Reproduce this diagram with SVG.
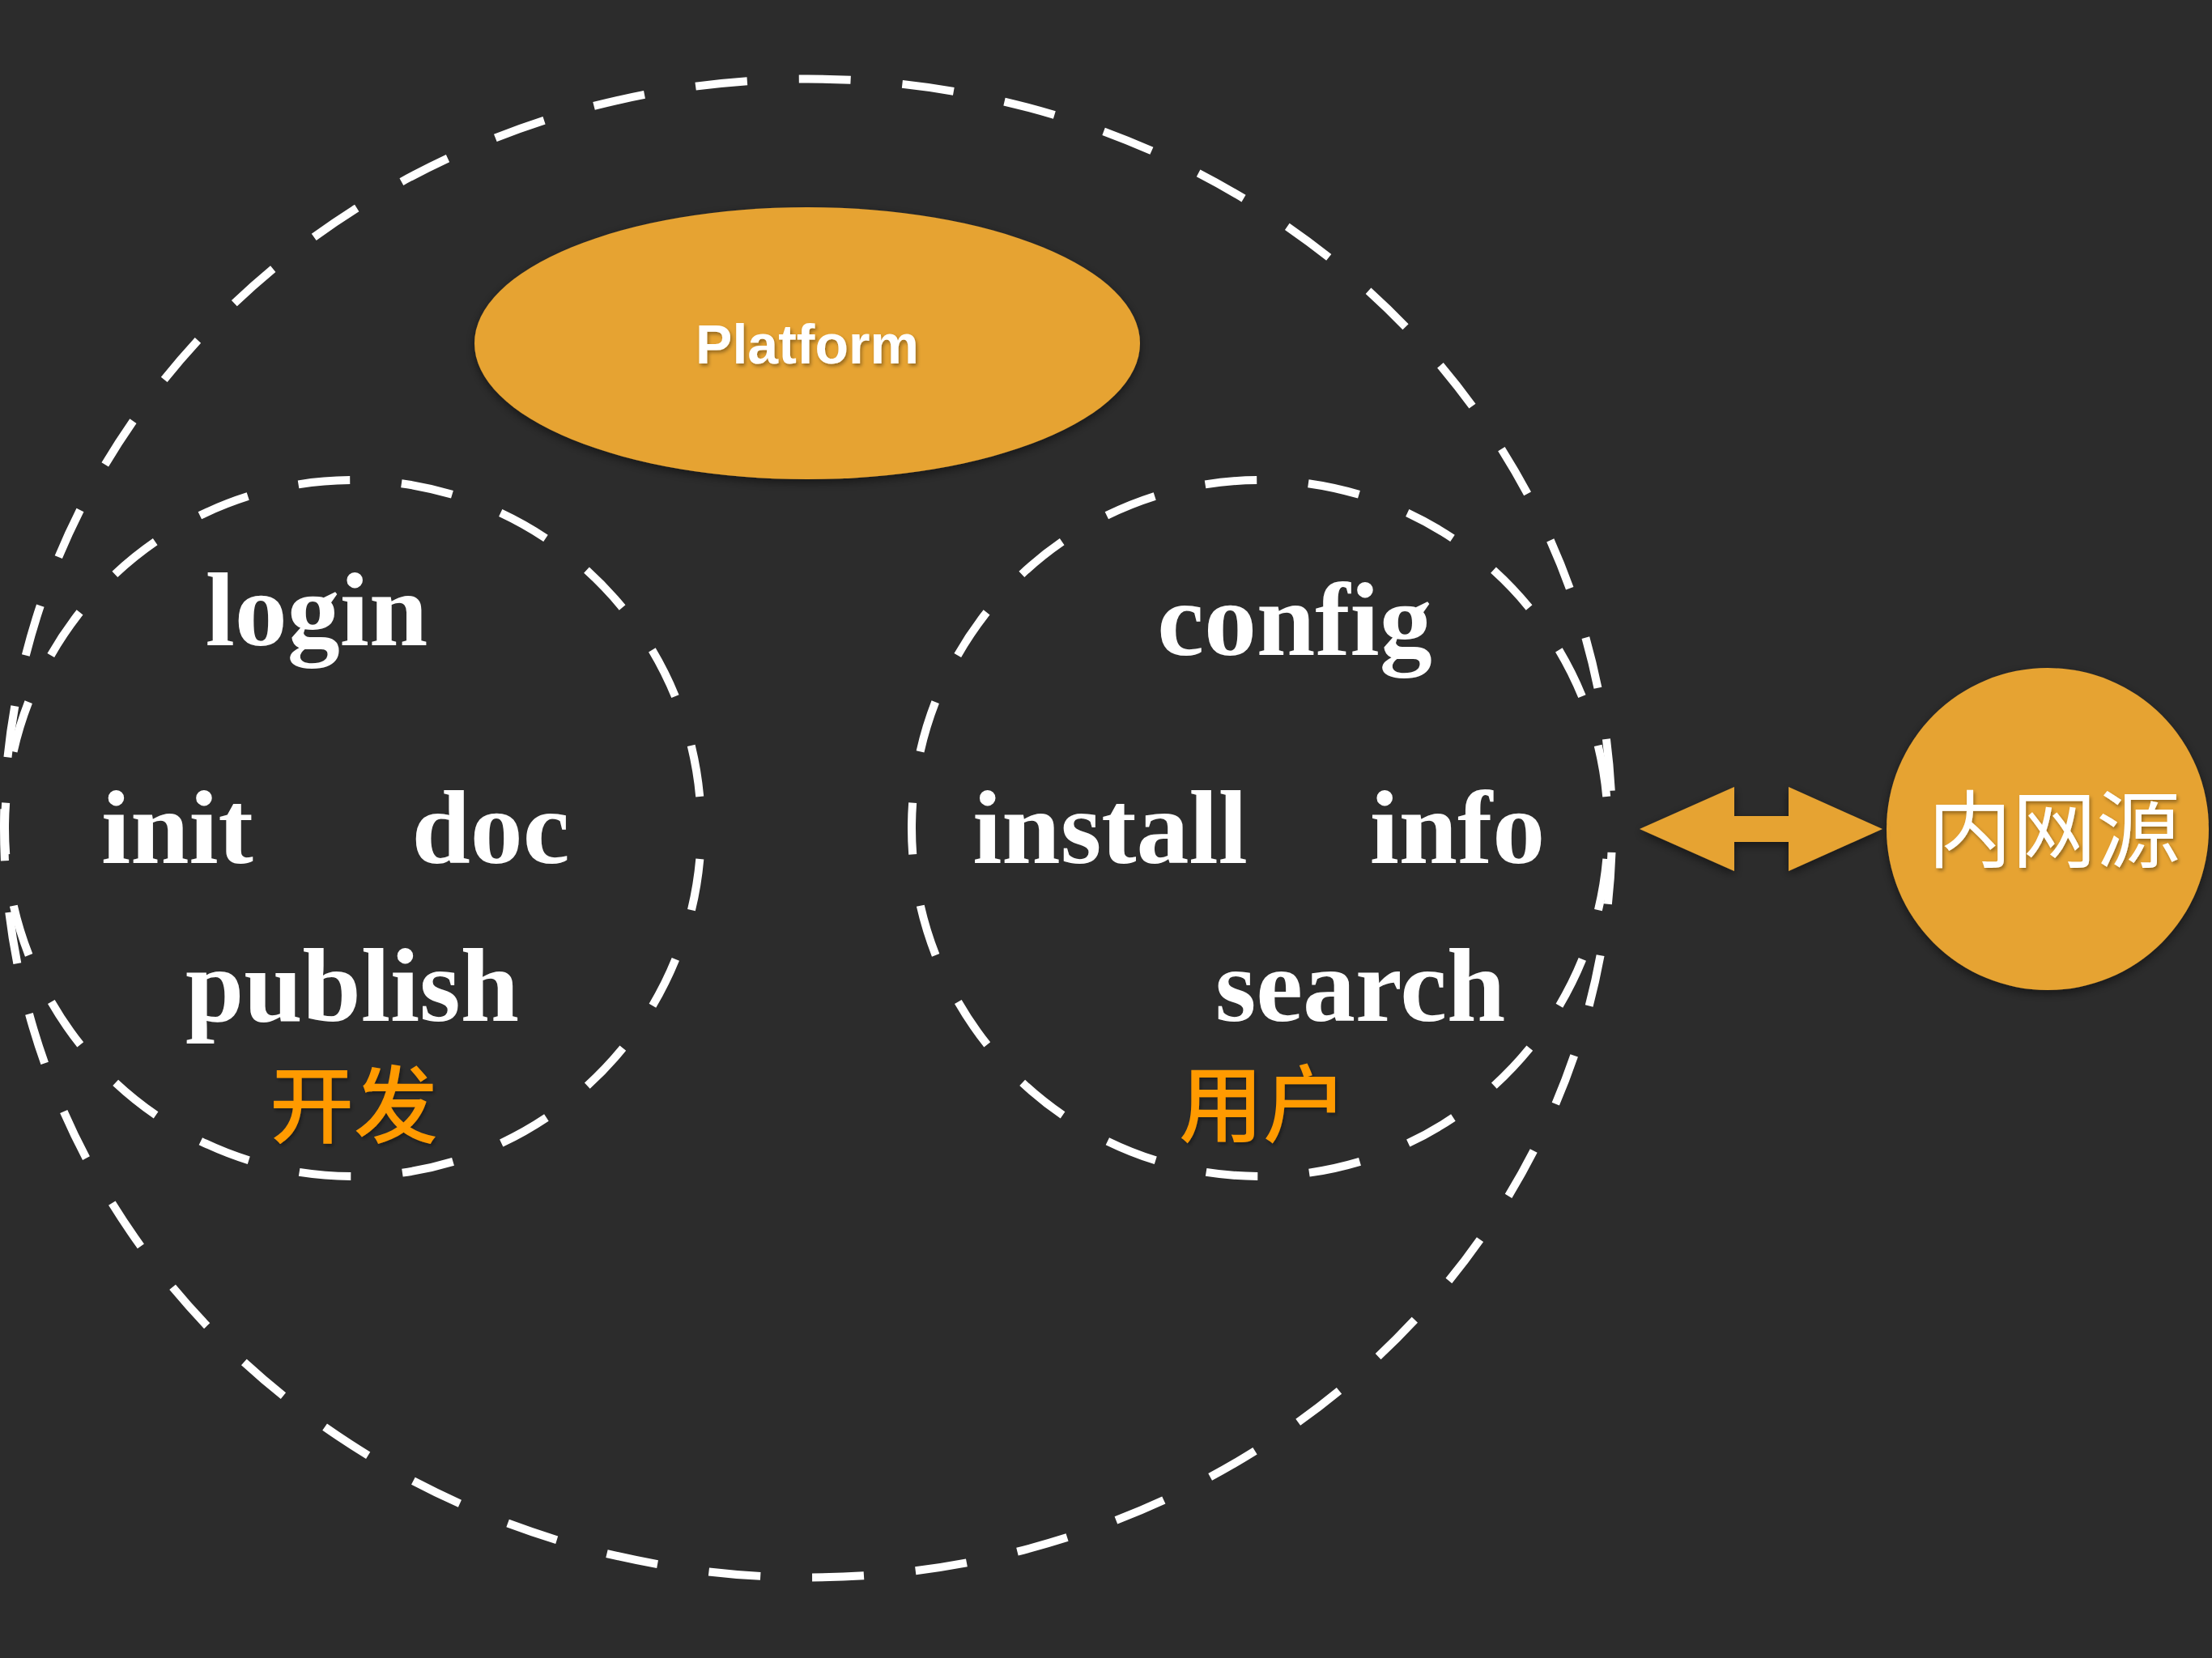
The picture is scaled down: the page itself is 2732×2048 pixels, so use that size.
<svg xmlns="http://www.w3.org/2000/svg" width="2732" height="2048" viewBox="0 0 2732 2048">
  <defs>
    <filter id="shadow" x="-10%" y="-10%" width="120%" height="120%">
      <feDropShadow dx="0" dy="4" stdDeviation="6" flood-color="#000" flood-opacity="0.5"/>
    </filter>
    <filter id="tshadow" x="-10%" y="-10%" width="120%" height="130%">
      <feDropShadow dx="2" dy="3" stdDeviation="2" flood-color="#000" flood-opacity="0.35"/>
    </filter>
  </defs>
  <style>
    .dash { fill: none; stroke: #ffffff; stroke-width: 10; stroke-dasharray: 64 64; }
    .orange { fill: #E6A333; }
    .word { font-family: "Liberation Serif", "Times New Roman", serif; font-weight: bold; font-size: 130px; fill: #ffffff; text-anchor: middle; }
    .cjk { font-family: "Noto Sans CJK SC", sans-serif; font-weight: 500; font-size: 104px; fill: #FF9A00; text-anchor: middle; }
    .label { font-family: "Liberation Sans", Arial, sans-serif; font-weight: bold; font-size: 68px; fill: #ffffff; text-anchor: middle; }
    .src { font-family: "Noto Sans CJK SC", sans-serif; font-weight: 400; font-size: 104px; fill: #ffffff; text-anchor: middle; }
  </style>
  <rect x="0" y="0" width="2732" height="2048" fill="#2C2C2C"/>

  <g id="platform-boundary">
    <path class="dash" style="stroke-dashoffset:98" d="M1991,1023 A993,925.5 0 0 1 998,1948.5 A993,925.5 0 0 1 5,1023 A993,925.5 0 0 1 998,97.5 A993,925.5 0 0 1 1991,1023 Z"/>
  </g>

  <g id="dev-group">
    <path class="dash" style="stroke-dashoffset:90" d="M866,1023 A430,430 0 0 1 436,1453 A430,430 0 0 1 6,1023 A430,430 0 0 1 436,593 A430,430 0 0 1 866,1023 Z"/>
    <text class="word" x="391" y="797">login</text>
    <text class="word" x="219" y="1066">init</text>
    <text class="word" x="606" y="1066">doc</text>
    <text class="word" x="435" y="1261">publish</text>
    <text class="cjk" x="437" y="1404" filter="url(#tshadow)">开发</text>
  </g>

  <g id="user-group">
    <path class="dash" style="stroke-dashoffset:90" d="M1986,1023 A430,430 0 0 1 1556,1453 A430,430 0 0 1 1126,1023 A430,430 0 0 1 1556,593 A430,430 0 0 1 1986,1023 Z"/>
    <text class="word" x="1599" y="809">config</text>
    <text class="word" x="1371" y="1066">install</text>
    <text class="word" x="1800" y="1066">info</text>
    <text class="word" x="1680" y="1261">search</text>
    <text class="cjk" x="1560" y="1403" filter="url(#tshadow)">用户</text>
  </g>

  <g id="platform">
    <ellipse class="orange" cx="997" cy="424" rx="411" ry="168" filter="url(#shadow)"/>
    <text class="label" x="997" y="449" filter="url(#tshadow)">Platform</text>
  </g>

  <g id="intranet-source">
    <circle class="orange" cx="2529" cy="1024" r="199" filter="url(#shadow)"/>
    <text class="src" x="2537" y="1064" filter="url(#tshadow)">内网源</text>
  </g>

  <g id="connectors">
    <polygon class="orange" filter="url(#shadow)" points="2025,1024 2142,972 2142,1008 2209,1008 2209,972 2325,1024 2209,1076 2209,1040 2142,1040 2142,1076"/>
  </g>
</svg>
